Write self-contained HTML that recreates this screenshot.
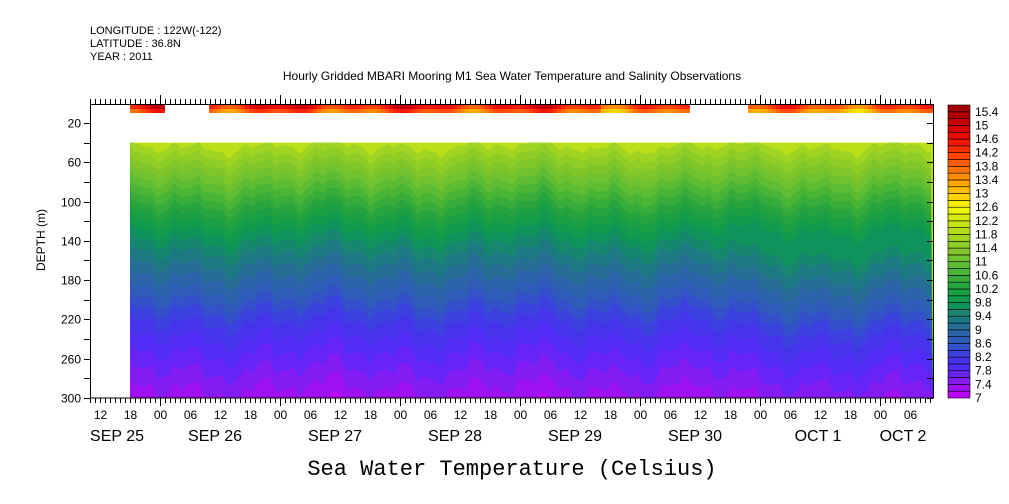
<!DOCTYPE html>
<html><head><meta charset="utf-8"><style>
html,body{margin:0;padding:0;background:#fff;}
svg{display:block;font-family:"Liberation Sans",sans-serif;}
</style></head><body>
<svg id="s" width="1009" height="504" xmlns="http://www.w3.org/2000/svg">
<text x="90" y="34" font-size="11">LONGITUDE : 122W(-122)</text>
<text x="90" y="47" font-size="11">LATITUDE : 36.8N</text>
<text x="90" y="60" font-size="11">YEAR : 2011</text>
<text x="512" y="80" font-size="12" text-anchor="middle">Hourly Gridded MBARI Mooring M1 Sea Water Temperature and Salinity Observations</text>
<g id="data"></g>
<g id="axes" stroke="#000" fill="none"></g>
<g id="lbl" font-size="12"></g>
<text transform="translate(45,240) rotate(-90)" font-size="12" text-anchor="middle">DEPTH (m)</text>
<text x="512" y="475" font-size="22" font-family="Liberation Mono, monospace" text-anchor="middle">Sea Water Temperature (Celsius)</text>
</svg>
<script>
(function(){
var NS="http://www.w3.org/2000/svg";
function el(p,t,a,txt){var e=document.createElementNS(NS,t);for(var k in a)e.setAttribute(k,a[k]);if(txt!=null)e.textContent=txt;p.appendChild(e);return e;}
var keys=[[7,'c800f8'],[7.4,'9018f0'],[7.8,'5828f8'],[8.2,'4038e8'],[8.6,'3058c0'],[9,'2a68a0'],[9.4,'1a8078'],[9.8,'0a9a50'],[10.2,'20a040'],[10.6,'40b038'],[11,'68c030'],[11.4,'88c828'],[11.8,'a8d820'],[12.2,'d0e810'],[12.6,'f8f800'],[13,'ffc800'],[13.4,'ff9800'],[13.8,'ff6800'],[14.2,'ff3800'],[14.6,'f01000'],[15,'d00000'],[15.4,'a80000'],[15.8,'900000']];
function col(v){for(var i=0;i<keys.length-1;i++){if(v<=keys[i+1][0]){var a=keys[i],b=keys[i+1],t=(v-a[0])/(b[0]-a[0]);t=Math.max(0,Math.min(1,t));var c='#';for(var j=0;j<3;j++){var x=parseInt(a[1].substr(j*2,2),16),y=parseInt(b[1].substr(j*2,2),16);var z=Math.round(x+(y-x)*t).toString(16);c+=(z.length<2?'0':'')+z;}return c;}}return '#'+keys[keys.length-1][1];}
function Y(d){return 123+(d-20)*0.982;}
var D=document.getElementById('data');
var prof=[[40,11.9],[70,11.2],[100,10.5],[125,9.9],[145,9.5],[170,9.1],[195,8.7],[215,8.3],[245,7.9],[280,7.5],[300,7.3],[340,6.9]];
function dep(T){for(var i=0;i<prof.length-1;i++){var a=prof[i],b=prof[i+1];if(T<=a[1]&&T>=b[1])return a[0]+(b[0]-a[0])*(a[1]-T)/(a[1]-b[1]);}return T>prof[0][1]?30:400;}
var x0=130,x1=933;
el(D,'rect',{x:x0,y:Y(40),width:x1-x0,height:398-Y(40),fill:col(12.0)});
function base(x){return 7*Math.sin(x*0.09)+5*Math.sin(x*0.031+1)+4*Math.sin(x*0.27+2)+2*Math.sin(x*0.53);}
function sm(x,a,b){return Math.max(0,Math.min(1,(x-a)/(b-a)));}
function wig(x,L){var s=base(x)*(0.6+0.1*(12-L))+1.5*Math.sin(x*0.17+L*0.6);if(L<9.8)s+=14*sm(x,700,760);return s;}
for(var L=11.8;L>7.0;L-=0.2){var d=dep(L+0.001);var pts=[];for(var x=x0;x<=x1;x+=3){var y=Y(d)+wig(x,L);y=Math.max(Y(40),Math.min(398,y));pts.push(x+','+y.toFixed(1));}pts.push(x1+',398',x0+',398');el(D,'polygon',{points:pts.join(' '),fill:col(L-0.1)});}
var segs=[[130,165],[209,690],[748,933]];
segs.forEach(function(s){for(var x=s[0];x<s[1];x+=4){var v=14.0+0.4*Math.sin(x*0.05)+0.3*Math.sin(x*0.13)+(x<600?0.2:-0.3);var w=Math.min(4,s[1]-x);el(D,'rect',{x:x,y:104,width:w,height:5,fill:col(v+0.3)});el(D,'rect',{x:x,y:109,width:w,height:4,fill:col(v-0.3)});}});
var A=document.getElementById('axes'),B=document.getElementById('lbl');
el(A,'rect',{x:90.5,y:104.5,width:843,height:293.5,'stroke-width':1});
for(var h=10;h<=178;h++){var x=100+(h-12)*5+0.5;if(x>933)break;var big=(h%24==0);el(A,'line',{x1:x,y1:104,x2:x,y2:big?95:99});el(A,'line',{x1:x,y1:398,x2:x,y2:big?406:403});if(h%6==0&&h>=12)el(B,'text',{x:x,y:419,'text-anchor':'middle'},('0'+(h%24)).slice(-2));}
for(var d=20;d<=300;d+=20){var y=Math.round(Y(d))+0.5;el(A,'line',{x1:84,y1:y,x2:90,y2:y});el(A,'line',{x1:927,y1:y,x2:933,y2:y});if((d-20)%40==0)el(B,'text',{x:81,y:y+4,'text-anchor':'end'},d);}
[['SEP 25',117],['SEP 26',215],['SEP 27',335],['SEP 28',455],['SEP 29',575],['SEP 30',695],['OCT  1',818],['OCT  2',903]].forEach(function(a){el(B,'text',{x:a[1],y:441,'text-anchor':'middle','font-size':'16','xml:space':'preserve'},a[0]);});
var cbT=105,cbB=398,n=43,bh=(cbB-cbT)/n;
for(var i=0;i<n;i++){var v=7+i*0.2;el(D,'rect',{x:948,y:cbB-(i+1)*bh,width:22,height:bh,fill:col(v+0.1),stroke:'#000','stroke-width':0.6});}
for(var i=0;i<=21;i++){var v=7+i*0.4;var y=cbB-i*2*bh;el(B,'text',{x:975,y:y+4,'font-size':'12'},(Math.round(v*10)/10).toString());}
})();
</script>
</body></html>
